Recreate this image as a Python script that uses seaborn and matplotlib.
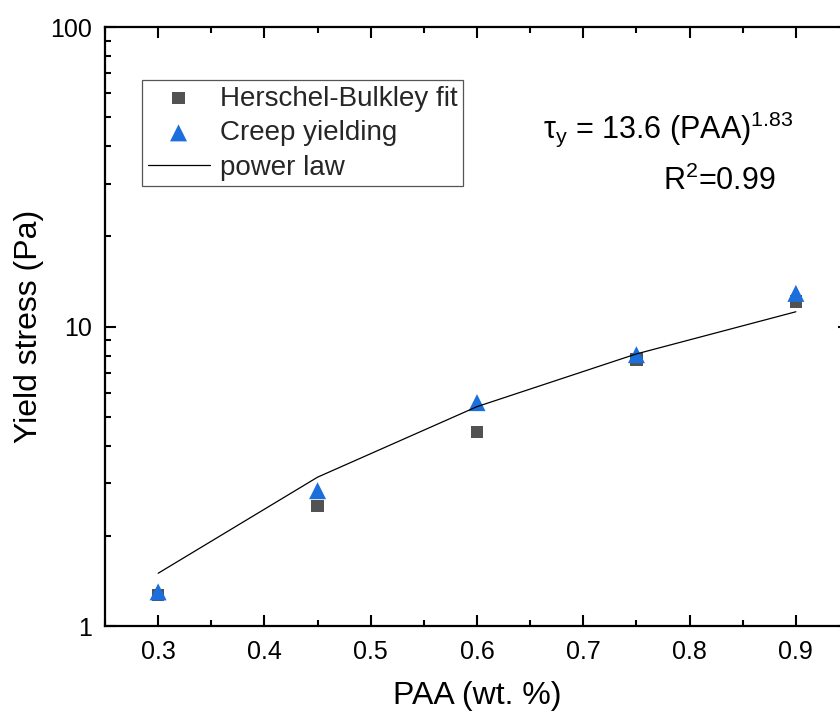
import matplotlib
matplotlib.use("Agg")
import matplotlib.pyplot as plt
import seaborn as sns
import pandas as pd
from matplotlib.ticker import MultipleLocator, LogLocator, NullFormatter, FixedLocator, FixedFormatter

# ---- data ----
paa = [0.3, 0.45, 0.6, 0.75, 0.9]
hb_fit = [1.27, 2.52, 4.45, 7.75, 12.1]
creep = [1.30, 2.83, 5.57, 8.05, 12.9]
power_law = [1.50, 3.14, 5.40, 8.10, 11.2]
xticks = [0.3, 0.4, 0.5, 0.6, 0.7, 0.8, 0.9]
yticks = [1, 10, 100]
ytick_labels = ["1", "10", "100"]

sns.set_theme(style="ticks")
plt.rcParams["font.family"] = ["Liberation Sans", "DejaVu Sans"]
plt.rcParams["mathtext.fontset"] = "custom"
plt.rcParams["mathtext.rm"] = "Liberation Sans"
plt.rcParams["mathtext.it"] = "Liberation Sans"
plt.rcParams["mathtext.bf"] = "Liberation Sans:bold"

fig = plt.figure(figsize=(8.4, 7.11), dpi=100)
W, H = 840, 711
left, right, top, bottom = 105, 849, 27, 626
ax = fig.add_axes([left / W, 1 - bottom / H, (right - left) / W, (bottom - top) / H])

df_hb = pd.DataFrame({"x": paa, "y": hb_fit})
df_cr = pd.DataFrame({"x": paa, "y": creep})
df_pl = pd.DataFrame({"x": paa, "y": power_law})

sns.scatterplot(data=df_hb, x="x", y="y", ax=ax, marker="s", s=80, color="#525252",
                edgecolor="none", label="Herschel-Bulkley fit", zorder=3)
sns.scatterplot(data=df_cr, x="x", y="y", ax=ax, marker="^", s=150, color="#1b6fdd",
                edgecolor="none", label="Creep yielding", zorder=4)
sns.lineplot(data=df_pl, x="x", y="y", ax=ax, color="black", linewidth=0.9,
             label="power law", zorder=5)

ax.set_yscale("log")
ax.set_xlim(0.25, 0.95)
ax.set_ylim(1, 100)

ax.xaxis.set_major_locator(FixedLocator(xticks))
ax.xaxis.set_major_formatter(FixedFormatter([f"{v:.1f}" for v in xticks]))
ax.xaxis.set_minor_locator(MultipleLocator(0.05))
ax.yaxis.set_major_locator(FixedLocator(yticks))
ax.yaxis.set_major_formatter(FixedFormatter(ytick_labels))
ax.yaxis.set_minor_locator(LogLocator(base=10, subs=range(2, 10)))
ax.yaxis.set_minor_formatter(NullFormatter())

ax.tick_params(which="both", direction="in", top=True, right=True, color="black")
ax.tick_params(which="major", length=8, width=1.5, pad=9)
ax.tick_params(axis="x", which="major", pad=10)
ax.tick_params(which="minor", length=4.5, width=1.5)
for lab in ax.get_xticklabels() + ax.get_yticklabels():
    lab.set_fontsize(18)
    lab.set_color("black")
for sp in ax.spines.values():
    sp.set_linewidth(1.6)
    sp.set_color("black")

ax.set_xlabel("PAA (wt. %)", fontsize=23, labelpad=12, color="black")
ax.set_ylabel("Yield stress (Pa)", fontsize=23, labelpad=5, color="black")

leg = ax.legend(loc="upper left", bbox_to_anchor=((142 - left) / (right - left), 1 - (80 - top) / (bottom - top)),
                borderaxespad=0, fontsize=20, frameon=True, fancybox=False, framealpha=1,
                edgecolor="#555555", handlelength=2.23, handletextpad=0.36, labelspacing=0.31,
                borderpad=0.2)
leg.get_frame().set_linewidth(0.9)

ax.text((543 - left) / (right - left), 1 - (138 - top) / (bottom - top),
        r"$\tau_\mathrm{y}$ = 13.6 (PAA)$^{1.83}$", transform=ax.transAxes,
        fontsize=22, va="baseline", ha="left", color="black")
ax.text((663 - left) / (right - left), 1 - (190 - top) / (bottom - top),
        r"R$^{2}$=0.99", transform=ax.transAxes,
        fontsize=22, va="baseline", ha="left", color="black")

fig.savefig("out.png", dpi=100)
